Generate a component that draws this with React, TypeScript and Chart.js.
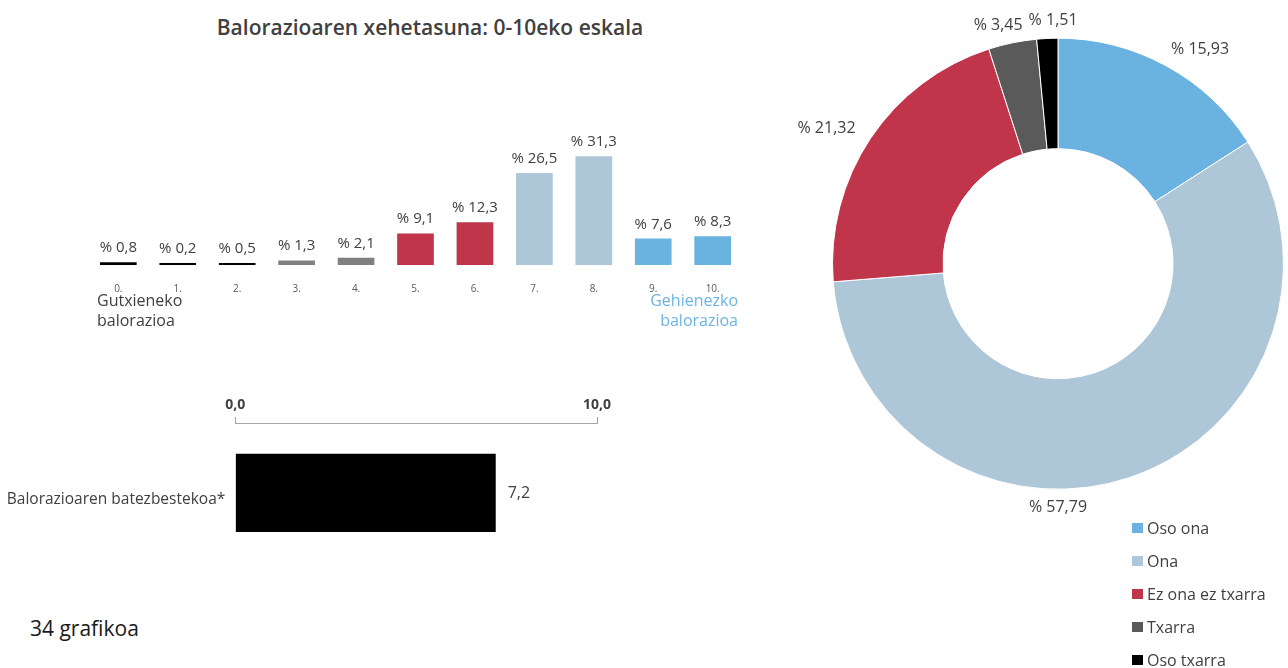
import React, { useEffect, useRef } from "react";
import { Chart, registerables } from "chart.js";

Chart.register(...registerables);

const FONT = "'Open Sans', 'Noto Sans', sans-serif";
const TEXT = "#404040";

// ---- Data ----
const chartTitle = "Balorazioaren xehetasuna: 0-10eko eskala";
const scoreCategories = ["0.", "1.", "2.", "3.", "4.", "5.", "6.", "7.", "8.", "9.", "10."];
const scoreShares = [0.8, 0.2, 0.5, 1.3, 2.1, 9.1, 12.3, 26.5, 31.3, 7.6, 8.3];
const scoreColors = ["#000000", "#000000", "#000000", "#808080", "#808080", "#c0354a", "#c0354a", "#adc6d8", "#adc6d8", "#6ab2e0", "#6ab2e0"];
const minLabel = ["Gutxieneko", "balorazioa"];
const maxLabel = ["Gehienezko", "balorazioa"];

const averageCategories = ["Balorazioaren batezbestekoa*"];
const averageValues = [7.2];
const averageTicks = [0, 10];

const ratingLabels = ["Oso ona", "Ona", "Ez ona ez txarra", "Txarra", "Oso txarra"];
const ratingShares = [15.93, 57.79, 21.32, 3.45, 1.51];
const ratingColors = ["#6ab2e0", "#adc6d8", "#c0354a", "#5a5a5a", "#000000"];

const figureCaption = "34 grafikoa";

const fmt = (v: number, d: number) => v.toFixed(d).replace(".", ",");

// ---- Plugins ----
const barValueLabels = {
  id: "barValueLabels",
  afterDatasetsDraw(chart: any) {
    const ctx = chart.ctx;
    const meta = chart.getDatasetMeta(0);
    ctx.save();
    ctx.font = `15px ${FONT}`;
    ctx.fillStyle = TEXT;
    ctx.textAlign = "center";
    ctx.textBaseline = "alphabetic";
    meta.data.forEach((bar: any, i: number) => {
      const v = chart.data.datasets[0].data[i];
      ctx.fillText("% " + fmt(v, 1), bar.x, Math.min(bar.y, bar.base - 2) - 10);
    });
    ctx.restore();
  },
};

const averageValueLabel = {
  id: "averageValueLabel",
  afterDatasetsDraw(chart: any) {
    const ctx = chart.ctx;
    const meta = chart.getDatasetMeta(0);
    ctx.save();
    ctx.font = `16px ${FONT}`;
    ctx.fillStyle = TEXT;
    ctx.textAlign = "left";
    ctx.textBaseline = "middle";
    meta.data.forEach((bar: any, i: number) => {
      const v = chart.data.datasets[0].data[i];
      ctx.fillText(fmt(v, 1), bar.x + 12, bar.y + 1);
    });
    ctx.restore();
  },
};

const doughnutLabels = {
  id: "doughnutLabels",
  afterDatasetsDraw(chart: any) {
    const ctx = chart.ctx;
    const meta = chart.getDatasetMeta(0);
    ctx.save();
    ctx.font = `16px ${FONT}`;
    ctx.fillStyle = TEXT;
    ctx.textAlign = "center";
    ctx.textBaseline = "middle";
    const h = 16;
    const items = meta.data.map((arc: any, i: number) => {
      const p = arc.getProps(["x", "y", "startAngle", "endAngle", "outerRadius"], true);
      let mid = (p.startAngle + p.endAngle) / 2;
      const bottom = Math.PI / 2;
      if (p.startAngle <= bottom && p.endAngle >= bottom) mid = bottom;
      const dx = Math.cos(mid);
      const dy = Math.sin(mid);
      const side = Math.abs(dx) > 0.3 && Math.abs(dy) < 0.7;
      const r = p.outerRadius + (side ? 18 : 10);
      const ax = p.x + dx * r;
      const ay = p.y + dy * r;
      const text = "% " + fmt(chart.data.datasets[0].data[i], 2);
      const w = ctx.measureText(text).width;
      const cx = ax + (Math.abs(dx) > 0.3 ? Math.sign(dx) * w / 2 : dx * w / 2);
      const cy = ay + (Math.abs(dy) > 0.7 ? Math.sign(dy) * h / 2 : 0);
      return { text, cx, cy, w };
    });
    // resolve horizontal overlaps
    for (let iter = 0; iter < 5; iter++) {
      for (let a = 0; a < items.length; a++) {
        for (let b = a + 1; b < items.length; b++) {
          const A = items[a], B = items[b];
          if (Math.abs(A.cy - B.cy) < h) {
            const need = (A.w + B.w) / 2 + 6;
            const dist = Math.abs(A.cx - B.cx);
            if (dist < need) {
              const push = (need - dist) / 2;
              if (A.cx < B.cx) { A.cx -= push; B.cx += push; } else { A.cx += push; B.cx -= push; }
            }
          }
        }
      }
    }
    items.forEach((it: any) => ctx.fillText(it.text, it.cx, it.cy));
    ctx.restore();
  },
};

function useChart(ref: React.RefObject<HTMLCanvasElement>, make: () => any) {
  useEffect(() => {
    if (!ref.current) return;
    const chart = new Chart(ref.current, make());
    return () => chart.destroy();
  }, []);
}

export default function App() {
  const barRef = useRef<HTMLCanvasElement>(null);
  const avgRef = useRef<HTMLCanvasElement>(null);
  const pieRef = useRef<HTMLCanvasElement>(null);

  Chart.defaults.font.family = FONT;

  useChart(barRef, () => ({
    type: "bar",
    data: {
      labels: scoreCategories,
      datasets: [
        {
          data: scoreShares,
          backgroundColor: scoreColors,
          categoryPercentage: 1,
          barPercentage: 0.617,
          minBarLength: 2,
        },
      ],
    },
    options: {
      animation: false,
      responsive: false,
      layout: { padding: { left: 28.6, right: 57.6, top: 126, bottom: 6 } },
      plugins: { legend: { display: false }, tooltip: { enabled: false }, title: { display: false } },
      scales: {
        x: {
          grid: { display: false, drawTicks: false },
          border: { display: false },
          ticks: { padding: 18, font: { size: 10, family: FONT }, color: "#595959" },
        },
        y: { display: false, min: 0, max: 40 },
      },
    },
    plugins: [barValueLabels],
  }));

  useChart(avgRef, () => ({
    type: "bar",
    data: {
      labels: averageCategories,
      datasets: [
        {
          data: averageValues,
          backgroundColor: "#000000",
          categoryPercentage: 1,
          barPercentage: 0.56,
        },
      ],
    },
    options: {
      indexAxis: "y",
      animation: false,
      responsive: false,
      layout: { padding: { left: 0, right: 23, top: 12.2, bottom: 17.4 } },
      plugins: { legend: { display: false }, tooltip: { enabled: false } },
      scales: {
        x: {
          position: "top",
          min: averageTicks[0],
          max: averageTicks[averageTicks.length - 1],
          afterBuildTicks: (s: any) => {
            s.ticks = averageTicks.map((v) => ({ value: v }));
          },
          grid: { drawOnChartArea: false, drawTicks: true, tickLength: 6, color: "#a6a6a6" },
          border: { display: true, color: "#a6a6a6" },
          ticks: {
            padding: 4,
            font: { size: 14, weight: "bold", family: FONT },
            color: TEXT,
            callback: (v: any) => fmt(Number(v), 1),
          },
        },
        y: {
          grid: { display: false },
          border: { display: false },
          ticks: { padding: 2, labelOffset: 7, font: { size: 15.5, family: FONT }, color: TEXT },
          afterFit: (s: any) => {
            s.width = 235.3;
          },
        },
      },
    },
    plugins: [averageValueLabel],
  }));

  useChart(pieRef, () => ({
    type: "doughnut",
    data: {
      labels: ratingLabels,
      datasets: [
        {
          data: ratingShares,
          backgroundColor: ratingColors,
          borderColor: "#ffffff",
          borderWidth: 1,
        },
      ],
    },
    options: {
      animation: false,
      responsive: false,
      cutout: "51%",
      layout: { padding: { left: 52, right: 4, top: 37.7, bottom: 70.3 } },
      plugins: { legend: { display: false }, tooltip: { enabled: false } },
    },
    plugins: [doughnutLabels],
  }));

  const abs = (s: any) => ({ position: "absolute" as const, ...s });

  return (
    <div style={abs({ left: 0, top: 0, width: 1288, height: 668, overflow: "hidden", fontFamily: FONT, background: "#fff" })}>
      <div style={abs({ left: 130, top: 13, width: 600, textAlign: "center", fontSize: 21, fontWeight: 600, lineHeight: "28px", color: TEXT })}>
        {chartTitle}
      </div>
      <canvas ref={barRef} width={740} height={319} style={abs({ left: 60, top: 0, width: 740, height: 319 })} />
      <div style={abs({ left: 97, top: 290, fontSize: 16, lineHeight: "20px", color: TEXT })}>
        {minLabel[0]}
        <br />
        {minLabel[1]}
      </div>
      <div style={abs({ left: 538, top: 290, width: 200, textAlign: "right", fontSize: 16, lineHeight: "20px", color: "#6cb4e4" })}>
        {maxLabel[0]}
        <br />
        {maxLabel[1]}
      </div>
      <canvas ref={avgRef} width={620} height={200} style={abs({ left: 0, top: 380, width: 620, height: 200 })} />
      <canvas ref={pieRef} width={508} height={560} style={abs({ left: 780, top: 0, width: 508, height: 560 })} />
      {ratingLabels.map((l, i) => (
        <div key={l} style={abs({ left: 1132, top: 518 + i * 33, height: 20, display: "flex", alignItems: "center", fontSize: 16, color: TEXT })}>
          <span style={{ display: "inline-block", width: 11, height: 10, background: ratingColors[i], marginRight: 4 }} />
          <span>{l}</span>
        </div>
      ))}
      <div style={abs({ left: 30, top: 615, fontSize: 21, lineHeight: "26px", color: "#1a1a1a" })}>{figureCaption}</div>
    </div>
  );
}
